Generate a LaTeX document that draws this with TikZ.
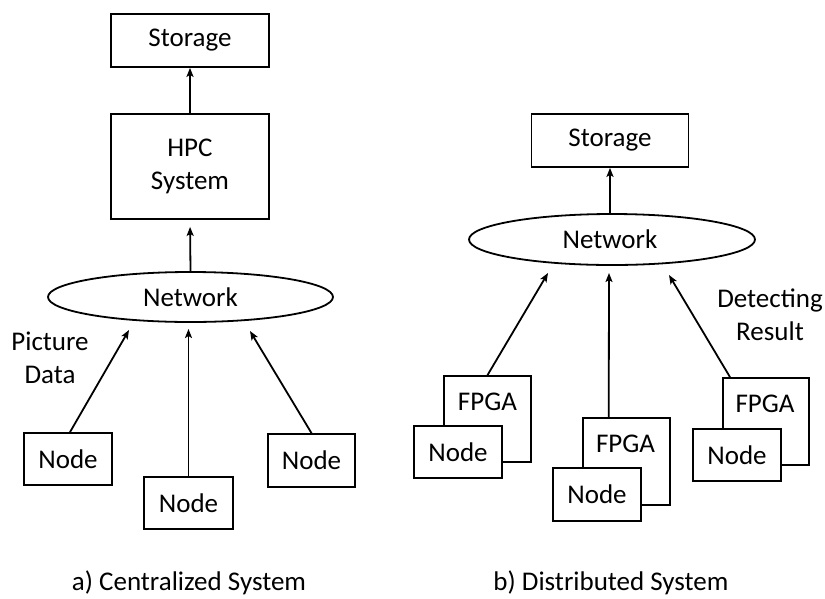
\documentclass[tikz,border=0pt]{standalone}
\usepackage{fontspec}
\setmainfont{Carlito}
\usetikzlibrary{arrows.meta,shapes.geometric,calc}
\begin{document}
\begin{tikzpicture}[x=1pt,y=-1pt,
  every node/.style={font=\fontsize{27}{33}\selectfont},
  box/.style={draw, line width=1.8pt, rectangle, inner sep=0pt, fill=white},
  netw/.style={draw, line width=1.8pt, ellipse, inner sep=0pt, minimum width=285pt, minimum height=50pt},
  conn/.style={line width=1.8pt, -{Stealth[length=9pt,width=7pt,inset=2pt]}},
  txt/.style={inner sep=0pt, align=center}
]
\useasboundingbox (0,0) rectangle (825,598);

% ---------- a) Centralized ----------
\node[box, minimum width=158pt, minimum height=53pt] (storA) at (190,40.5) {Storage};
\node[box, minimum width=158pt, minimum height=105pt, align=center] (hpc) at (190,166.5) {HPC\\System};
\node[netw] (netA) at (190.5,297) {Network};
\node[box, minimum width=88pt, minimum height=52pt] (nA1) at (68,459) {Node};
\node[box, minimum width=89pt, minimum height=52pt] (nA2) at (188.5,503) {Node};
\node[box, minimum width=87pt, minimum height=53pt] (nA3) at (311.5,460.5) {Node};
\node[txt] (pic) at (50,357.5) {Picture\\Data};
\node[txt, anchor=base] (capA) at (189,590) {a) Centralized System};

\coordinate (tA1) at (129,330);
\coordinate (tA2) at (188.5,329);
\coordinate (tA3) at (250,331);

\draw[conn] (hpc.north) -- (storA.south);
\draw[conn, shorten >=7pt] (netA.north) -- (hpc.south);
\draw[conn] ($(nA1.north)+(2,0)$) -- (tA1);
\draw[conn] (nA2.north) -- (tA2);
\draw[conn] (nA3.north) -- (tA3);

% ---------- b) Distributed ----------
\node[box, minimum width=157pt, minimum height=53pt] (storB) at (610,140.5) {Storage};
\node[netw, minimum width=286pt, minimum height=51pt] (netB) at (612,239.5) {};
\node[txt] at (610,239.5) {Network};

\node[box, minimum width=87pt, minimum height=86pt] (fB1) at (487.5,419) {};
\node[txt] (fB1t) at ($(fB1.north)+(0,27)$) {FPGA};
\node[box, minimum width=88pt, minimum height=52pt] (nB1) at (458,452) {Node};

\node[box, minimum width=87pt, minimum height=87pt] (fB2) at (626.5,461.5) {};
\node[txt] (fB2t) at ($(fB2.north)+(-1,27)$) {FPGA};
\node[box, minimum width=88pt, minimum height=53pt] (nB2) at (597,494.5) {Node};

\node[box, minimum width=86pt, minimum height=87pt] (fB3) at (766,421.5) {};
\node[txt] (fB3t) at ($(fB3.north)+(-1,27)$) {FPGA};
\node[box, minimum width=88pt, minimum height=52pt] (nB3) at (737,455) {Node};

\node[txt] (det) at (770,315) {Detecting\\Result};
\node[txt, anchor=base] (capB) at (611,590) {b) Distributed System};

\coordinate (tB1) at (548,273);
\coordinate (tB2) at (609,273);
\coordinate (tB3) at (669,275);

\draw[conn] (610,214) -- (storB.south);
\draw[conn] (fB1.north) -- (tB1);
\draw[conn] ($(fB2.north west)!0.3!(fB2.north east)$) -- (tB2);
\draw[conn] ($(fB3.north west)!0.09!(fB3.north east)$) -- (tB3);
\end{tikzpicture}
\end{document}
